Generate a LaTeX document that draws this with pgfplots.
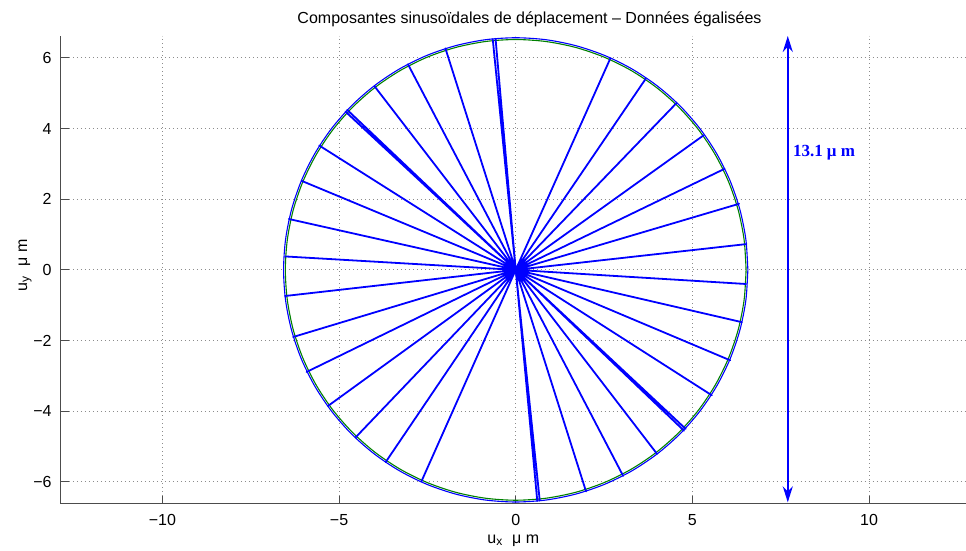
\documentclass[border=0pt]{standalone}
\usepackage{pgfplots}
\pgfplotsset{compat=1.18}
\usepackage{fontspec}
\setmainfont{Liberation Sans}
\newfontfamily\serifbf{Liberation Serif}
\usetikzlibrary{arrows.meta}

\definecolor{mblue}{rgb}{0,0,1}
\definecolor{mgreen}{rgb}{0,0.5,0}

\begin{document}
\begin{tikzpicture}
\begin{axis}[
    scale only axis,
    width=452.5pt, height=234pt,
    xmin=-12.87, xmax=12.73,
    ymin=-6.62, ymax=6.62,
    axis lines*=left,
    axis line style={black!70, line width=0.5pt},
    tick align=inside,
    major tick length=4pt,
    tick style={black!70, line width=0.5pt},
    xtick={-10,-5,0,5,10},
    xticklabels={−10,−5,0,5,10},
    ytick={-6,-4,-2,0,2,4,6},
    yticklabels={−6,−4,−2,0,2,4,6},
    ticklabel style={font=\fontsize{8}{9}\selectfont, inner sep=0pt},
    xticklabel style={anchor=base, yshift=-11pt},
    yticklabel style={anchor=east, xshift=-4.5pt},
    grid=major,
    grid style={black!45, line width=0.4pt, dash pattern=on 0.4pt off 1.6pt},
    title={Composantes sinusoïdales de déplacement -- Données égalisées},
    title style={font=\fontsize{8}{9}\selectfont, at={(axis description cs:0.518,1)},
        anchor=base, yshift=0pt, inner sep=0pt},
    xlabel={u\textsubscript{x}\ \ μ m},
    ylabel={u\textsubscript{y}\ \ μ m},
    label style={font=\fontsize{8}{9}\selectfont, inner sep=0pt},
    xlabel style={at={(axis description cs:0.5,0)}, anchor=base, yshift=-20pt},
    ylabel style={at={(axis description cs:-0.032,0.51)}, anchor=south},
]
% cercle vert
\addplot[mgreen, line width=0.55pt, smooth] coordinates {
(6.520,0) (6.464,0.851) (6.298,1.688) (6.024,2.495) (5.647,3.260) (5.173,3.969) (4.610,4.610) (3.969,5.173) (3.260,5.647) (2.495,6.024) (1.688,6.298) (0.851,6.464) (0,6.520)
(-0.851,6.464) (-1.688,6.298) (-2.495,6.024) (-3.260,5.647) (-3.969,5.173) (-4.610,4.610) (-5.173,3.969) (-5.647,3.260) (-6.024,2.495) (-6.298,1.688) (-6.464,0.851) (-6.520,0)
(-6.464,-0.851) (-6.298,-1.688) (-6.024,-2.495) (-5.647,-3.260) (-5.173,-3.969) (-4.610,-4.610) (-3.969,-5.173) (-3.260,-5.647) (-2.495,-6.024) (-1.688,-6.298) (-0.851,-6.464) (0,-6.520)
(0.851,-6.464) (1.688,-6.298) (2.495,-6.024) (3.260,-5.647) (3.969,-5.173) (4.610,-4.610) (5.173,-3.969) (5.647,-3.260) (6.024,-2.495) (6.298,-1.688) (6.464,-0.851) (6.520,0)
};
% cercle bleu
\addplot[mblue, line width=0.55pt, smooth] coordinates {
(6.570,0) (6.514,0.858) (6.346,1.700) (6.070,2.514) (5.690,3.285) (5.212,4.000) (4.646,4.646) (4.000,5.212) (3.285,5.690) (2.514,6.070) (1.700,6.346) (0.858,6.514) (0,6.570)
(-0.858,6.514) (-1.700,6.346) (-2.514,6.070) (-3.285,5.690) (-4.000,5.212) (-4.646,4.646) (-5.212,4.000) (-5.690,3.285) (-6.070,2.514) (-6.346,1.700) (-6.514,0.858) (-6.570,0)
(-6.514,-0.858) (-6.346,-1.700) (-6.070,-2.514) (-5.690,-3.285) (-5.212,-4.000) (-4.646,-4.646) (-4.000,-5.212) (-3.285,-5.690) (-2.514,-6.070) (-1.700,-6.346) (-0.858,-6.514) (0,-6.570)
(0.858,-6.514) (1.700,-6.346) (2.514,-6.070) (3.285,-5.690) (4.000,-5.212) (4.646,-4.646) (5.212,-4.000) (5.690,-3.285) (6.070,-2.514) (6.346,-1.700) (6.514,-0.858) (6.570,0)
};
% rayons
\addplot[mblue, line width=0.9pt, line join=round] coordinates {
(0,0) (-0.65,6.53) (0,0) (-0.57,6.54) (0,0) (-1.99,6.27) (0,0) (-3.05,5.82)
(0,0) (-3.99,5.19) (0,0) (-4.82,4.48) (0,0) (-4.77,4.53) (0,0) (-5.56,3.52)
(0,0) (-6.06,2.52) (0,0) (-6.42,1.44) (0,0) (-6.52,0.38)
(0,0) (2.68,5.99) (0,0) (3.68,5.41) (0,0) (4.55,4.72) (0,0) (5.32,3.81)
(0,0) (5.91,2.86) (0,0) (6.32,1.87) (0,0) (6.53,0.73)
(0,0) (-6.53,-0.74) (0,0) (-6.30,-1.90) (0,0) (-5.92,-2.89) (0,0) (-5.31,-3.85)
(0,0) (-4.53,-4.74) (0,0) (-3.68,-5.44) (0,0) (-2.67,-5.99)
(0,0) (6.52,-0.40) (0,0) (6.40,-1.48) (0,0) (6.07,-2.56) (0,0) (5.55,-3.55)
(0,0) (4.81,-4.50) (0,0) (4.76,-4.55) (0,0) (4.00,-5.21) (0,0) (3.04,-5.83)
(0,0) (1.99,-6.27) (0,0) (0.68,-6.53) (0,0) (0.61,-6.54) (0,0)
};
% fleche
\addplot[mblue, line width=1pt, {Stealth[length=8pt,width=5pt]}-{Stealth[length=8pt,width=5pt]}] coordinates {(7.7,-6.58) (7.7,6.62)};
\node[anchor=west, text=mblue, font=\serifbf\bfseries\fontsize{8.5}{10}\selectfont, inner sep=1pt] at (axis cs:7.78,3.32) {13.1 μ m};
\end{axis}
% marges de la figure
\path (current axis.south west) ++(-30.5pt,-23.5pt) rectangle ([yshift=18pt]current axis.north east);
\end{tikzpicture}
\end{document}
